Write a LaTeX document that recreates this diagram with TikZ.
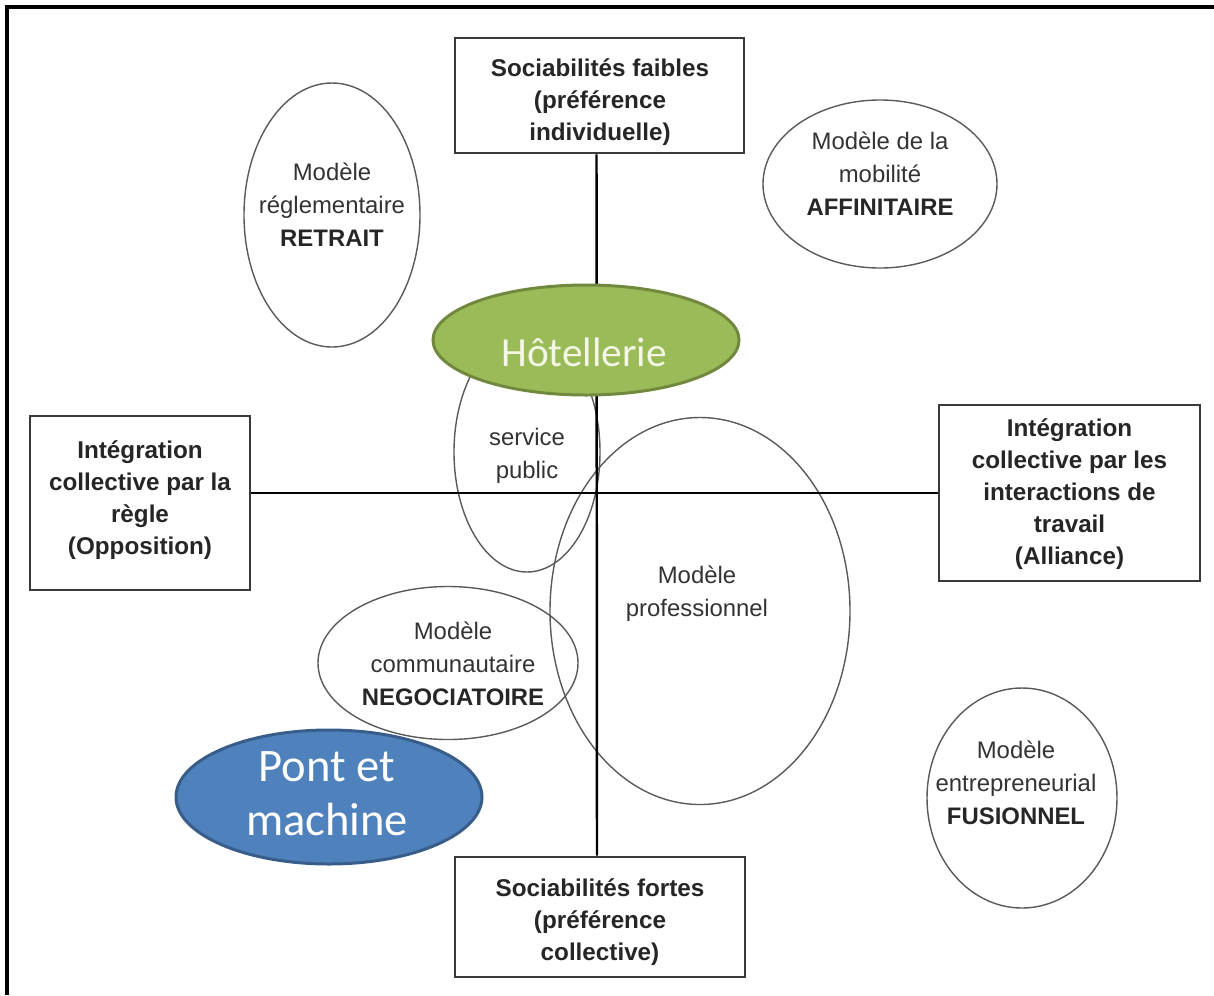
\documentclass[tikz,border=0pt]{standalone}
\usepackage{fontspec}
\setmainfont{Liberation Sans}
\newfontfamily\calfont{Carlito}
\usetikzlibrary{shapes.geometric}
\definecolor{txtgray}{HTML}{333333}
\definecolor{boxgray}{HTML}{3A3A3A}
\definecolor{ellgray}{HTML}{5A5A5A}
\definecolor{hotfill}{HTML}{9BBB59}
\definecolor{hotdraw}{HTML}{71893F}
\definecolor{hottext}{HTML}{F3F7E6}
\definecolor{pontfill}{HTML}{4F81BD}
\definecolor{pontdraw}{HTML}{385D8A}
\tikzset{
  axisbox/.style={draw=boxgray, line width=1.6pt, fill=white, rectangle, inner sep=0pt},
  boxtext/.style={align=center, inner sep=0pt,
    font=\fontsize{13.8}{18.3}\selectfont\bfseries, text=black!85},
  ell/.style={draw=ellgray, line width=0.8pt, ellipse, inner sep=0pt},
  elltext/.style={align=center, font=\fontsize{13.6}{18.7}\selectfont, text=txtgray, inner sep=0pt},
  axisline/.style={line width=1.4pt, black},
  colell/.style={ellipse, inner sep=0pt, line width=1.7pt},
  coltext/.style={align=center, inner sep=0pt}
}
\begin{document}
\begin{tikzpicture}[x=0.02cm, y=-0.02cm]
\useasboundingbox (0,0) rectangle (1214,995);
\draw[line width=2pt] (7,995) -- (7,7) -- (1214,7);

% outline ellipses
\node[ell, minimum width=176*0.02cm, minimum height=264*0.02cm] (retrait) at (332,215) {};
\node[elltext] at (332,205) {Modèle\\réglementaire\\\textbf{\color{black!85}RETRAIT}};

\node[ell, minimum width=234*0.02cm, minimum height=168*0.02cm] (affin) at (880,184) {};
\node[elltext] at (880,174) {Modèle de la\\mobilité\\\textbf{\color{black!85}AFFINITAIRE}};

\node[ell, minimum width=146*0.02cm, minimum height=240*0.02cm] (servpub) at (527,452) {};
\node[elltext] at (527,456) {service\\public};

\node[ell, minimum width=300*0.02cm, minimum height=387*0.02cm] (prof) at (700,611) {};
\node[elltext] at (697,594) {Modèle\\professionnel};

\node[ell, minimum width=260*0.02cm, minimum height=153*0.02cm] (comm) at (448,663) {};
\node[elltext] at (453,664) {Modèle\\communautaire\\\textbf{\color{black!85}NEGOCIATOIRE}};

\node[ell, minimum width=190*0.02cm, minimum height=220*0.02cm] (fusion) at (1022,798) {};
\node[elltext] at (1016,783) {Modèle\\entrepreneurial\\\textbf{\color{black!85}FUSIONNEL}};

% boxes
\node[axisbox, minimum width=289*0.02cm, minimum height=115*0.02cm] (top) at (599.5,95.5) {};
\node[boxtext] at (600,102) {Sociabilités faibles\\(préférence\\individuelle)};
\node[axisbox, minimum width=290*0.02cm, minimum height=120*0.02cm] (bot) at (600,917) {};
\node[boxtext] at (600,922) {Sociabilités fortes\\(préférence\\collective)};
\node[axisbox, minimum width=220*0.02cm, minimum height=174*0.02cm] (left) at (140,503) {};
\node[boxtext] at (140,500) {Intégration\\collective par la\\règle\\(Opposition)};
\node[axisbox, minimum width=261*0.02cm, minimum height=176*0.02cm] (right) at (1069.5,493) {};
\node[boxtext] at (1069.5,494) {Intégration\\collective par les\\interactions de\\travail\\(Alliance)};

% axes
\draw[axisline] ([xshift=-3*0.02cm]top.south) -- ([xshift=-3*0.02cm]bot.north);
\draw[axisline] (left.east |- right.west) -- (right.west);

% coloured ellipses
\node[colell, fill=hotfill, draw=hotdraw, minimum width=306*0.02cm, minimum height=110*0.02cm] (hotel) at (586,340) {};
\node[coltext, text=hottext, font=\calfont\fontsize{23.5}{28}\selectfont] at (584,352) {Hôtellerie};
\node[colell, fill=pontfill, draw=pontdraw, minimum width=306*0.02cm, minimum height=134*0.02cm] (pont) at (329,797) {};
\node[coltext, text=white, font=\calfont\fontsize{26.5}{30.6}\selectfont] at (327,794) {Pont et\\machine};
\end{tikzpicture}
\end{document}
